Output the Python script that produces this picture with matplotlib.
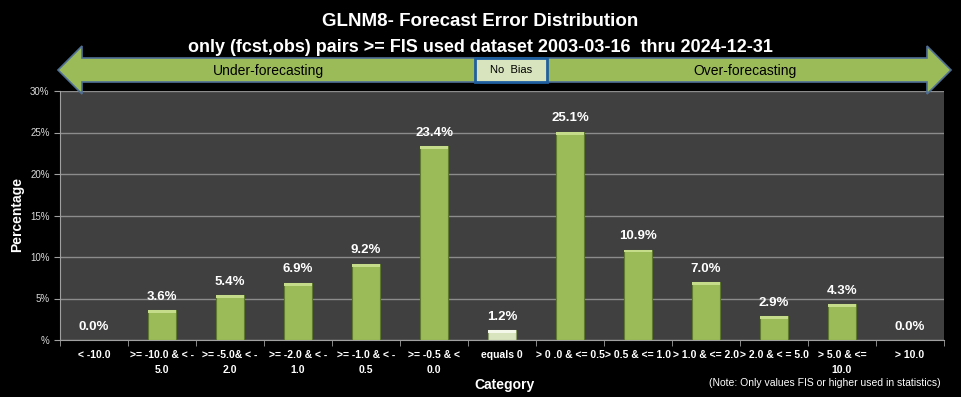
import matplotlib
matplotlib.use("Agg")
import matplotlib.pyplot as plt
from matplotlib.patches import Polygon, Rectangle
from matplotlib.ticker import FuncFormatter, FixedLocator, NullFormatter
import numpy as np

plt.rcParams['font.family'] = ['Liberation Sans', 'DejaVu Sans']

# ---- data ----
categories = ["< -10.0", ">= -10.0 & < -\n5.0", ">= -5.0& < -\n2.0", ">= -2.0 & < -\n1.0",
              ">= -1.0 & < -\n0.5", ">= -0.5 & <\n0.0", "equals 0", "> 0 .0 & <= 0.5",
              "> 0.5 & <= 1.0", "> 1.0 & <= 2.0", "> 2.0 & < = 5.0", "> 5.0 & <=\n10.0", "> 10.0"]
percent = [0.0, 3.6, 5.4, 6.9, 9.2, 23.4, 1.2, 25.1, 10.9, 7.0, 2.9, 4.3, 0.0]
title_lines = ["GLNM8- Forecast Error Distribution",
               "only (fcst,obs) pairs >= FIS used dataset 2003-03-16  thru 2024-12-31"]

GREEN = '#9bbb59'
LIGHT = '#d7e4bd'

fig = plt.figure(figsize=(9.61, 3.97), dpi=100, facecolor='black')
W, H = 961, 397

def fx(px):
    return px / W

def fy(py):
    return 1 - py / H

ax = fig.add_axes([fx(60), fy(340), fx(944) - fx(60), fy(91) - fy(340)])
ax.set_facecolor('#404040')

x = np.arange(len(categories))
colors = [LIGHT if c == "equals 0" else GREEN for c in categories]
edges = ['#8a9a6a' if c == "equals 0" else '#5f7a30' for c in categories]
ax.bar(x, percent, width=0.4, color=colors, edgecolor=edges, linewidth=0.8, zorder=3)
# bevel highlight on top of bars
tops = [max(v - 0.35, 0) for v in percent]
hl = ['#f4f8ea' if c == "equals 0" else '#c5dc8a' for c in categories]
ax.bar(x, [min(0.35, v) for v in percent], bottom=tops, width=0.4, color=hl,
       linewidth=0, zorder=4)

for xi, v in zip(x, percent):
    ax.text(xi, v + 1.6, f"{v:.1f}%", ha='center', va='center', color='white',
            fontsize=9.5, fontweight='bold')

ax.set_xlim(-0.5, len(categories) - 0.5)
ax.set_ylim(0, 30)
ax.set_yticks(np.arange(0, 31, 5))
ax.yaxis.set_major_formatter(FuncFormatter(lambda v, p: "%" if v == 0 else f"{v:.0f}%"))
ax.grid(axis='y', color='#8c8c8c', linewidth=1.0, zorder=1)
ax.set_axisbelow(True)

ax.set_xticks(x)
ax.set_xticklabels(categories, fontsize=7.5, color='white', fontweight='bold', linespacing=1.7)
ax.tick_params(axis='x', length=0, pad=7)
ax.xaxis.set_minor_locator(FixedLocator(np.arange(-0.5, len(categories), 1)))
ax.xaxis.set_minor_formatter(NullFormatter())
ax.tick_params(axis='x', which='minor', length=4, color='#a0a0a0', direction='out')
ax.tick_params(axis='y', length=4, color='#a0a0a0', labelcolor='#d9d9d9', labelsize=7)
for s in ['top', 'right']:
    ax.spines[s].set_visible(False)
for s in ['left', 'bottom']:
    ax.spines[s].set_color('#a0a0a0')

fig.text(fx(17), fy(215), "Percentage", rotation=90, ha='center', va='center',
         color='white', fontsize=10, fontweight='bold')
fig.text(fx(505), fy(385), "Category", ha='center', va='center',
         color='white', fontsize=10, fontweight='bold')
fig.text(fx(825), fy(383), "(Note: Only values FIS or higher used in statistics)",
         ha='center', va='center', color='white', fontsize=7.5)

fig.text(0.5, fy(21), title_lines[0], ha='center', va='center', color='white',
         fontsize=13.5, fontweight='bold')
fig.text(0.5, fy(47), title_lines[1], ha='center', va='center', color='white',
         fontsize=13, fontweight='bold')

# double-headed arrow band
arrow_px = [(58, 70), (82, 46), (82, 58), (927, 58), (927, 46), (951, 70),
            (927, 94), (927, 82), (82, 82), (82, 94)]
arrow = Polygon([(fx(a), fy(b)) for a, b in arrow_px], closed=True,
                transform=fig.transFigure, facecolor=GREEN, edgecolor='#4f6f96',
                linewidth=1.2, zorder=5)
fig.patches.append(arrow)
box = Rectangle((fx(475), fy(82)), fx(547) - fx(475), fy(58) - fy(82),
                transform=fig.transFigure, facecolor=LIGHT, edgecolor='#1f5f9f',
                linewidth=2, zorder=6)
fig.patches.append(box)
fig.text(fx(511), fy(70), "No  Bias", ha='center', va='center', color='black',
         fontsize=8, zorder=7)
fig.text(fx(268), fy(71), "Under-forecasting", ha='center', va='center', color='black',
         fontsize=10, zorder=7)
fig.text(fx(745), fy(71), "Over-forecasting", ha='center', va='center', color='black',
         fontsize=10, zorder=7)

fig.savefig("out.png", dpi=100, facecolor='black')
